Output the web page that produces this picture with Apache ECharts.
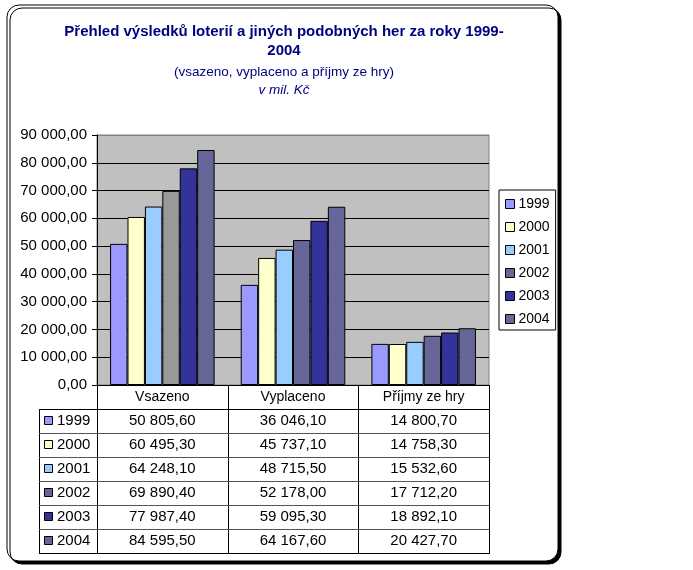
<!DOCTYPE html>
<html>
<head>
<meta charset="utf-8">
<script src="https://cdn.jsdelivr.net/npm/echarts@6/dist/echarts.min.js"></script>
<style>
  html, body { margin: 0; padding: 0; background: #fff; }
  #chart { width: 693px; height: 570px; }
</style>
</head>
<body>
<div id="chart"></div>
<script>
// data
const categories = ['Vsazeno', 'Vyplaceno', 'Příjmy ze hry']
const years = ['1999', '2000', '2001', '2002', '2003', '2004']
const v1999 = [50805.6, 36046.1, 14800.7]
const v2000 = [60495.3, 45737.1, 14758.3]
const v2001 = [64248.1, 48715.5, 15532.6]
const v2002 = [69890.4, 52178.0, 17712.2]
const v2003 = [77987.4, 59095.3, 18892.1]
const v2004 = [84595.5, 64167.6, 20427.7]
const yearValues = [v1999, v2000, v2001, v2002, v2003, v2004]

const yearColors = ['#9999FF', '#FFFFCC', '#99CCFF', '#666699', '#333399', '#666699']
const barOverride = { '2002': ['#999999', null, null] } /* in the source one bar is gray */

// layout of plot + data table
const G = { left: 97, right: 489, top: 135, bottom: 385 }
const rowH = 24
const keyLeft = 39
const font = 'Arial, "Liberation Sans", sans-serif'

function fmt(v) {
  const parts = v.toFixed(2).split('.')
  return parts[0].replace(/\B(?=(\d{3})+(?!\d))/g, ' ') + ',' + parts[1]
}

const colW = (G.right - G.left) / categories.length
const colX = categories.map((c, i) => G.left + colW * i)
colX.push(G.right)

const graphic = []
// outer frame with shadow
graphic.push({
  type: 'rect', z: -10,
  shape: { x: 7, y: 5, width: 551, height: 556, r: 12 },
  style: { fill: '#fff', stroke: '#000', lineWidth: 1, shadowColor: '#000', shadowOffsetX: 3, shadowOffsetY: 3, shadowBlur: 0 }
})
// titles
const titleColor = '#000080'
graphic.push({ type: 'text', x: 284, y: 32, style: { text: 'Přehled výsledků loterií a jiných podobných her za roky 1999-', font: 'bold 15px ' + font, fill: titleColor, align: 'center', verticalAlign: 'middle' } })
graphic.push({ type: 'text', x: 284, y: 51, style: { text: '2004', font: 'bold 15px ' + font, fill: titleColor, align: 'center', verticalAlign: 'middle' } })
graphic.push({ type: 'text', x: 284, y: 72, style: { text: '(vsazeno, vyplaceno a příjmy ze hry)', font: '13.5px ' + font, fill: titleColor, align: 'center', verticalAlign: 'middle' } })
graphic.push({ type: 'text', x: 284, y: 90, style: { text: 'v mil. Kč', font: 'italic 13.5px ' + font, fill: titleColor, align: 'center', verticalAlign: 'middle' } })

// data table lines
const tTop = G.bottom + rowH
const tBottom = tTop + rowH * years.length
function line(x1, y1, x2, y2, color) {
  graphic.push({ type: 'line', z: 10, shape: { x1, y1, x2, y2 }, style: { stroke: color || '#000', lineWidth: 1 } })
}
colX.forEach(x => line(Math.round(x) + 0.5, G.bottom, Math.round(x) + 0.5, tBottom))
line(keyLeft + 0.5, tTop, keyLeft + 0.5, tBottom)
line(keyLeft, tTop + 0.5, G.right, tTop + 0.5)
for (let r = 1; r < years.length; r++) line(keyLeft, tTop + rowH * r + 0.5, G.right, tTop + rowH * r + 0.5, '#555')
line(keyLeft, tBottom + 0.5, G.right + 1, tBottom + 0.5)

// table cells
years.forEach((y, r) => {
  const cy = tTop + rowH * r + rowH / 2
  graphic.push({ type: 'rect', z: 10, shape: { x: 44.5, y: Math.round(cy) - 4.5, width: 8, height: 8 }, style: { fill: yearColors[r], stroke: '#000', lineWidth: 1 } })
  graphic.push({ type: 'text', z: 10, x: 57, y: cy, style: { text: y, font: '15px ' + font, fill: '#000', align: 'left', verticalAlign: 'middle' } })
  yearValues[r].forEach((v, c) => {
    graphic.push({ type: 'text', z: 10, x: (colX[c] + colX[c + 1]) / 2, y: cy, style: { text: fmt(v), font: '15px ' + font, fill: '#000', align: 'center', verticalAlign: 'middle' } })
  })
})

// top gridline is the plot border (gray), the rest black
const splitColors = ['#000', '#000', '#000', '#000', '#000', '#000', '#000', '#000', '#000', '#808080']

const series = years.map((y, i) => ({
  name: y,
  type: 'bar',
  barGap: '0%',
  barCategoryGap: '20%',
  itemStyle: { color: yearColors[i], borderColor: '#000', borderWidth: 1 },
  data: yearValues[i].map((v, c) => {
    const o = barOverride[y] && barOverride[y][c]
    return o ? { value: v, itemStyle: { color: o } } : v
  })
}))

const chart = echarts.init(document.getElementById('chart'))
chart.setOption({
  animation: false,
  textStyle: { fontFamily: font },
  grid: {
    left: G.left, right: 693 - G.right, top: G.top, bottom: 570 - G.bottom,
    show: true, backgroundColor: '#C0C0C0', borderColor: '#808080', borderWidth: 1
  },
  legend: {
    orient: 'vertical',
    left: 499, top: 190,
    data: years,
    icon: 'rect',
    itemWidth: 9, itemHeight: 9, itemGap: 7,
    padding: [6, 6, 3, 6],
    backgroundColor: '#fff', borderColor: '#000', borderWidth: 1, borderRadius: 0,
    itemStyle: { borderColor: '#000', borderWidth: 1 },
    textStyle: { fontSize: 14, color: '#000', lineHeight: 16, padding: [0, 0, 0, -1] }
  },
  xAxis: {
    type: 'category',
    data: categories,
    axisLine: { lineStyle: { color: '#000' } },
    axisTick: { show: false },
    axisLabel: { fontSize: 14, color: '#000', margin: 5 }
  },
  yAxis: {
    type: 'value',
    min: 0, max: 90000, interval: 10000,
    axisLine: { show: true, lineStyle: { color: '#000' } },
    axisTick: { show: true, length: 5, lineStyle: { color: '#000' } },
    axisLabel: { fontSize: 15, color: '#000', margin: 10, formatter: v => fmt(v) },
    splitLine: { lineStyle: { color: splitColors } }
  },
  series: series,
  graphic: graphic
})
</script>
</body>
</html>
